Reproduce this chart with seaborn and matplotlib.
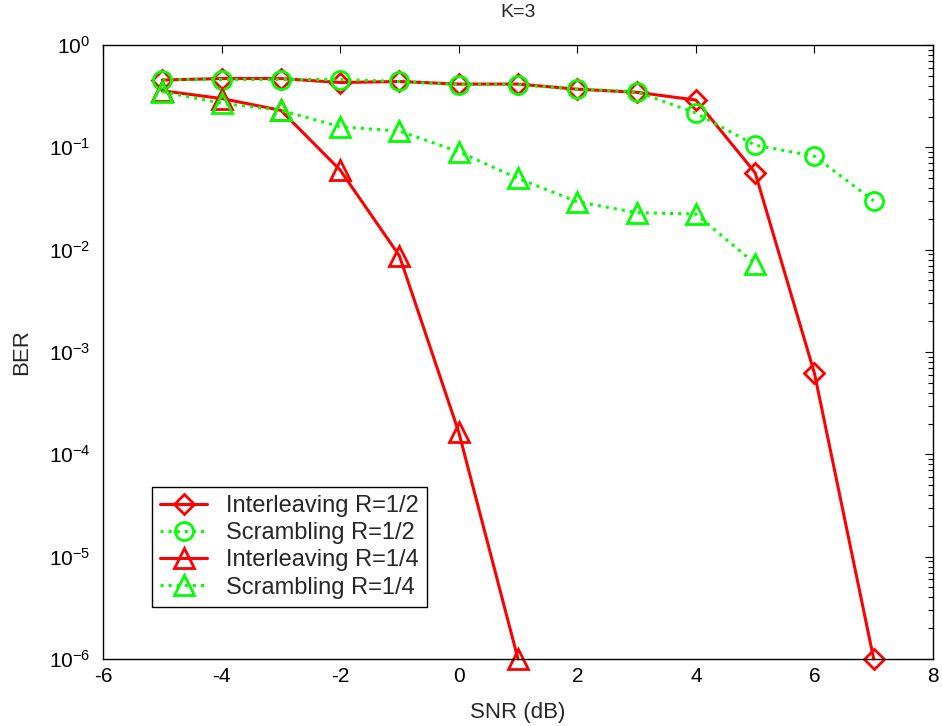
import numpy as np
import pandas as pd
import matplotlib
matplotlib.use('Agg')
import matplotlib.pyplot as plt
import seaborn as sns

# ============================================
# DATA
# ============================================
snr = [-5, -4, -3, -2, -1, 0, 1, 2, 3, 4, 5, 6, 7]
ber_inter_12 = [0.455, 0.47, 0.47, 0.43, 0.44, 0.415, 0.415, 0.37, 0.345, 0.29, 0.0565, 6.2e-4, 1e-6]
ber_scram_12 = [0.46, 0.46, 0.46, 0.46, 0.44, 0.41, 0.41, 0.37, 0.35, 0.216, 0.105, 0.082, 0.030]

snr_14_inter = [-5, -4, -3, -2, -1, 0, 1]
ber_inter_14 = [0.357, 0.30, 0.23, 0.06, 0.0087, 1.65e-4, 1e-6]
snr_14_scram = [-5, -4, -3, -2, -1, 0, 1, 2, 3, 4, 5]
ber_scram_14 = [0.35, 0.27, 0.23, 0.159, 0.144, 0.0906, 0.0497, 0.0294, 0.023, 0.0223, 0.0073]

labels = ['Interleaving R=1/2', 'Scrambling R=1/2', 'Interleaving R=1/4', 'Scrambling R=1/4']

# ============================================
# STYLE
# ============================================
sns.set_style('white')
plt.rcParams['font.family'] = ['Liberation Sans', 'DejaVu Sans']
plt.rcParams['mathtext.fontset'] = 'custom'
plt.rcParams['mathtext.rm'] = 'Liberation Sans'
plt.rcParams['mathtext.it'] = 'Liberation Sans'
plt.rcParams['axes.unicode_minus'] = False

fig = plt.figure(figsize=(9.42, 7.26), dpi=100)
ax = fig.add_subplot(111)
fig.subplots_adjust(left=103/942, right=933/942, top=1-45/726, bottom=1-659/726)

red = (1, 0, 0)
green = (0, 1, 0)

series = [
    (snr, ber_inter_12, red, '-', 'D', 10),
    (snr, ber_scram_12, green, ':', 'o', 13),
    (snr_14_inter, ber_inter_14, red, '-', '^', 14),
    (snr_14_scram, ber_scram_14, green, ':', '^', 14),
]

for (x, y, c, ls, mk, ms), lab in zip(series, labels):
    df = pd.DataFrame({'SNR': x, 'BER': y})
    sns.lineplot(data=df, x='SNR', y='BER', ax=ax, color=c, linestyle=ls,
                 linewidth=2.2, marker=mk, markersize=ms, markerfacecolor='none',
                 markeredgecolor=c, markeredgewidth=2.0, label=lab, clip_on=False)

ax.set_yscale('log')
ax.set_xlim(-6, 8)
ax.set_ylim(1e-6, 1)
ax.set_xticks(np.arange(-6, 9, 2))
ax.set_yticks([10.0**k for k in range(-6, 1)])

ax.tick_params(axis='both', which='both', direction='in', top=True, right=True,
               labelsize=15, colors='black')
ax.tick_params(axis='both', which='major', length=6, width=0.8)
ax.tick_params(axis='x', which='major', pad=6)
ax.tick_params(axis='y', which='major', pad=9)
ax.tick_params(axis='y', which='minor', length=3.5, width=0.8)
ax.tick_params(axis='x', which='minor', bottom=False, top=False)

for sp in ax.spines.values():
    sp.set_color('black')
    sp.set_linewidth(1.0)

ax.set_xlabel('SNR (dB)', fontsize=16, labelpad=11)
ax.set_ylabel('BER', fontsize=16, labelpad=12)
ax.set_title('K=3', fontsize=14, pad=20)

leg = ax.legend(loc='lower left', bbox_to_anchor=(0.059, 0.085), fontsize=17,
                frameon=True, fancybox=False, edgecolor='black', framealpha=1,
                handlelength=2.0, borderpad=0.35, labelspacing=0.22, handletextpad=0.8,
                borderaxespad=0)
leg.get_frame().set_linewidth(1.0)

plt.savefig('out.png', dpi=100)
